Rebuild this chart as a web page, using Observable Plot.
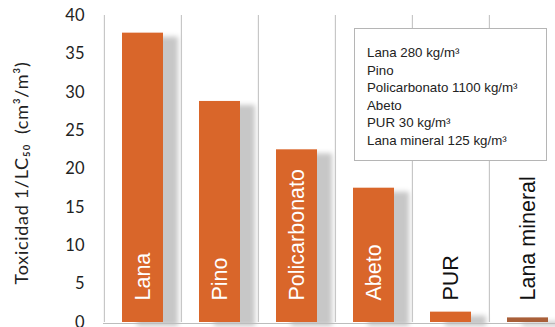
<!DOCTYPE html>
<html>
<head>
<meta charset="utf-8">
<script src="https://cdn.jsdelivr.net/npm/d3@7"></script>
<script src="https://cdn.jsdelivr.net/npm/@observablehq/plot@0.6"></script>
<style>
  html, body { margin: 0; padding: 0; background: #fff; overflow: hidden; }
  #wrap { position: relative; width: 555px; height: 327px; }
  #legend {
    position: absolute; left: 354px; top: 28px; width: 193px; height: 133px;
    box-sizing: border-box; border: 1px solid #b5b5b5; background: #fff;
    padding: 15px 0 0 12px;
    font-family: "Liberation Sans", Arial, sans-serif; font-size: 13.3px; line-height: 17.6px; color: #222;
  }
</style>
</head>
<body>
<div id="wrap"><div id="legend"></div></div>
<script>
const categories = ["Lana", "Pino", "Policarbonato", "Abeto", "PUR", "Lana mineral"];
const values = [37.7, 28.8, 22.5, 17.5, 1.35, 0.6];
const yTicks = [0, 5, 10, 15, 20, 25, 30, 35, 40];
const legendLabels = [
  "Lana 280 kg/m³",
  "Pino",
  "Policarbonato 1100 kg/m³",
  "Abeto",
  "PUR 30 kg/m³",
  "Lana mineral 125 kg/m³"
];
const yTitle = "Toxicidad 1/LC₅₀\u2002(cm³/m³)";

const data = categories.map((c, i) => ({cat: c, value: values[i]}));

const W = 555, H = 327;
const left = 103, bandStep = 77.3;

const svg = Plot.plot({
  width: W,
  height: H,
  marginLeft: left,
  marginRight: 0,
  marginTop: 15,
  marginBottom: 5,
  style: {fontFamily: "Lato, sans-serif", fontSize: "16.5px", color: "#222", background: "#fff"},
  x: {domain: categories, range: [left, left + bandStep * categories.length], padding: 0, axis: null},
  y: {domain: [0, 40], ticks: yTicks, tickSize: 0, tickPadding: 19, label: null},
  marks: [
    Plot.barY(data, {
      x: "cat", y: "value",
      fill: (d, i) => i === categories.length - 1 ? "#a95f37" : "#d9662b",
      insetLeft: 18, insetRight: 18
    }),
    Plot.ruleX(categories, {x: d => d, dx: -bandStep / 2, y1: 0, y2: 40, stroke: "#bdbdbd", strokeWidth: 1}),
    Plot.ruleY([0], {stroke: "#bdbdbd", dy: 1}),
    Plot.text(data, {
      x: "cat", y: 0, dy: -22, rotate: -90, textAnchor: "start",
      text: "cat",
      fill: d => d.value > 5 ? "#ffffff" : "#111111",
      fontSize: 21.5, fontFamily: "Liberation Sans, Arial, sans-serif"
    }),
    Plot.text([yTitle], {
      frameAnchor: "left", textAnchor: "middle", dx: -81, dy: 4, rotate: -90,
      text: d => d, fontSize: 18, fill: "#222", fontFamily: "Lato, sans-serif"
    })
  ]
});

// drop shadow for the bars
const s = d3.select(svg);
const defs = s.insert("defs", ":first-child");
defs.append("filter").attr("id", "barShadow")
  .attr("x", "-5%").attr("y", "-5%").attr("width", "130%").attr("height", "120%")
  .append("feDropShadow")
  .attr("dx", 15).attr("dy", 4).attr("stdDeviation", 2.5)
  .attr("flood-color", "#000").attr("flood-opacity", 0.22);
s.select('g[aria-label="bar"]').attr("filter", "url(#barShadow)");
s.selectAll('g[aria-label="y-axis tick label"] text, g[aria-label="y-axis"] text').attr("fill", "#222");
s.selectAll("text").filter(function () { return this.textContent === yTitle; })
  .style("letter-spacing", "0.7px");

const wrap = document.getElementById("wrap");
wrap.insertBefore(svg, wrap.firstChild);

const leg = document.getElementById("legend");
legendLabels.forEach(t => {
  const div = document.createElement("div");
  div.textContent = t;
  leg.appendChild(div);
});
</script>
</body>
</html>
